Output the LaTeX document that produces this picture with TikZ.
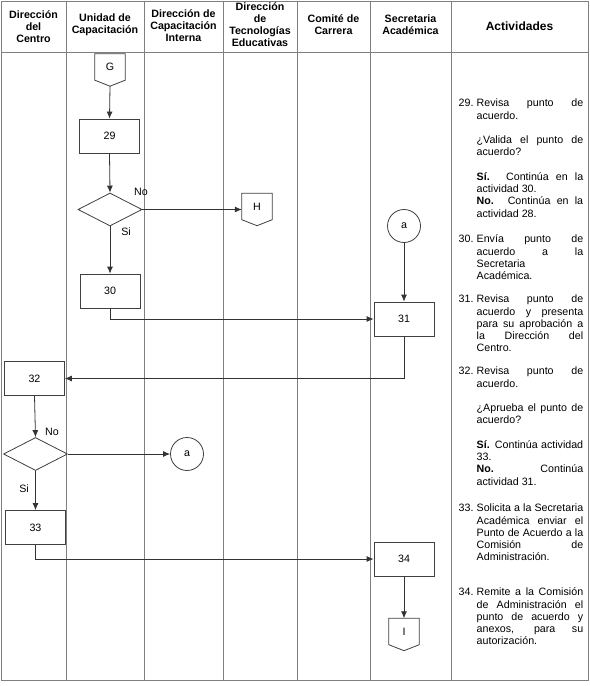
\documentclass[tikz,border=0pt]{standalone}
\usepackage{fontspec}
\setmainfont{Liberation Sans}
\usetikzlibrary{shapes.geometric,arrows.meta,calc}
\newcommand\actfont{\fontsize{10.67bp}{12.27bp}\selectfont}
\newcommand\hdfont{\fontsize{10.67bp}{12bp}\selectfont\bfseries}
\newcommand\itemnum[1]{\hspace*{-18bp}\makebox[18bp][l]{#1}}
\newcommand\pgap{\par\vspace{12.27bp}}
\newcommand\offpage[1]{\draw[shapeline] (#1.north west) -- (#1.north east) -- (#1.south east) -- ([yshift=-6bp]#1.south) -- (#1.south west) -- cycle;}
\newenvironment{actbox}{\begin{minipage}[t]{124.5bp}\actfont\leftskip=18bp\rightskip=0pt\parindent=0pt\parfillskip=0pt plus 1fil\tolerance=10000\hbadness=10000\hyphenpenalty=10000\exhyphenpenalty=10000}{\end{minipage}}
\tikzset{
  gridline/.style={draw=black!50, line width=0.8bp},
  hdr/.style={align=center, font=\hdfont, inner sep=0pt},
  act/.style={anchor=base west, inner sep=0pt},
  shapeline/.style={draw=black!75, line width=0.8bp},
  proc/.style={shapeline, rectangle, minimum width=60bp, minimum height=34bp, inner sep=0pt, font=\actfont},
  dec/.style={shapeline, diamond, minimum width=64bp, minimum height=33bp, inner sep=0pt},
  conn/.style={shapeline, circle, minimum size=33bp, inner sep=0pt, font=\actfont},
  offp/.style={rectangle, minimum width=30bp, minimum height=26bp, inner sep=0pt, font=\actfont},
  arr/.style={draw=black!80, line width=0.8bp, -{Latex[length=7bp,width=6bp]}},
  lbl/.style={inner sep=0pt, font=\actfont}
}
\begin{document}
\begin{tikzpicture}[x=1bp,y=-1bp]
\useasboundingbox (0,0) rectangle (590,686);
\fill[white] (0,0) rectangle (590,686);
% table
\draw[gridline] (1,1) rectangle (588,680);
\draw[gridline] (1,52) -- (588,52);
\foreach \xx in {66,144,223,297,370,451} \draw[gridline] (\xx,1) -- (\xx,680);
% headers
\node[hdr] (h1) at (33.5,27) {Dirección\\del\\Centro};
\node[hdr] (h2) at (105,25) {Unidad de\\Capacitación};
\node[hdr] (h3) at (183.5,26) {Dirección de\\Capacitación\\Interna};
\node[hdr] (h4) at (260,25) {Dirección\\de\\Tecnologías\\Educativas};
\node[hdr] (h5) at (333.5,25) {Comité de\\Carrera};
\node[hdr] (h6) at (410.5,25) {Secretaria\\Académica};
\node[hdr, font=\fontsize{12bp}{14bp}\selectfont\bfseries] (h7) at (519.5,26) {Actividades};
% activities
\node[act] (t29) at (458.5,106.8) {\begin{actbox}\itemnum{29.}Revisa punto de\linebreak acuerdo.\pgap ¿Valida el punto de\linebreak acuerdo?\pgap \textbf{Sí.} Continúa en la\linebreak actividad 30.\par \textbf{No.} Continúa en la\linebreak actividad 28.\end{actbox}};
\node[act] (t30) at (458.5,242.8) {\begin{actbox}\itemnum{30.}Envía punto de\linebreak acuerdo a la\linebreak Secretaria\newline Académica.\end{actbox}};
\node[act] (t31) at (458.5,302.8) {\begin{actbox}\itemnum{31.}Revisa punto de\linebreak acuerdo y presenta\linebreak para su aprobación a\linebreak la Dirección del\linebreak Centro.\end{actbox}};
\node[act] (t32) at (458.5,374.8) {\begin{actbox}\itemnum{32.}Revisa punto de\linebreak acuerdo.\pgap ¿Aprueba el punto de\linebreak acuerdo?\pgap \textbf{Sí.} Continúa actividad\linebreak 33.\par \textbf{No.} Continúa\linebreak actividad 31.\end{actbox}};
\node[act] (t33) at (458.5,511.8) {\begin{actbox}\itemnum{33.}Solicita a la Secretaria\linebreak Académica enviar el\linebreak Punto de Acuerdo a la\linebreak Comisión de\linebreak Administración.\end{actbox}};
\node[act] (t34) at (458.5,595.8) {\begin{actbox}\itemnum{34.}Remite a la Comisión\linebreak de Administración el\linebreak punto de acuerdo y\linebreak anexos, para su\linebreak autorización.\end{actbox}};
% flow nodes
\node[offp] (G) at (110,67) {G};
\offpage{G}
\node[proc] (n29) at (109.5,136) {29};
\node[dec] (d1) at (110,209.5) {};
\node[offp] (H) at (257,206.5) {H};
\offpage{H}
\node[proc] (n30) at (110,291) {30};
\node[conn] (a1) at (404,226) {a};
\node[proc] (n31) at (404,319) {31};
\node[proc] (n32) at (34.5,378.5) {32};
\node[dec] (d2) at (35.5,454) {};
\node[conn] (a2) at (187,454) {a};
\node[proc] (n33) at (35.5,527.5) {33};
\node[proc] (n34) at (404,559) {34};
\node[offp] (I) at (404,631.5) {I};
\offpage{I}
% labels
\node[lbl] (l1) at (141,192) {No};
\node[lbl] (l2) at (126,232) {Si};
\node[lbl] (l3) at (52,432) {No};
\node[lbl] (l4) at (24,489) {Si};
% connectors
\draw[arr] ([yshift=-6bp]G.south) -- (n29.north);
\draw[arr] (n29.south) -- (d1.north);
\draw[arr] (d1.east) -- (d1.east -| H.west);
\draw[arr] (d1.south) -- (n30.north);
\draw[arr] (a1.south) -- (n31.north);
\draw[arr] (n30.south) |- (n31.west);
\draw[arr] (n31.south) |- (n32.east);
\draw[arr] (n32.south) -- (d2.north);
\draw[arr] (d2.east) -- (a2.west);
\draw[arr] (d2.south) -- (n33.north);
\draw[arr] (n33.south) |- (n34.west);
\draw[arr] (n34.south) -- (I.north);
\end{tikzpicture}
\end{document}
